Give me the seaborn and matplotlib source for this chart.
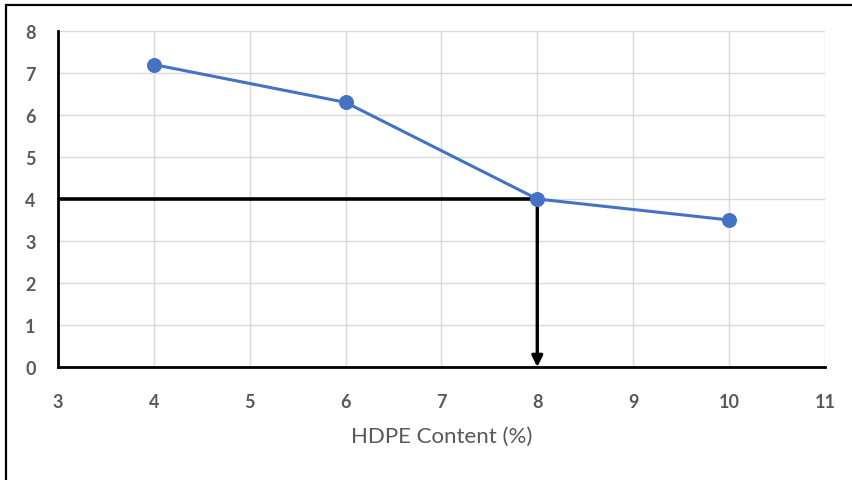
import matplotlib
matplotlib.use("Agg")
import matplotlib.pyplot as plt
import matplotlib.patches as mpatches
import pandas as pd
import seaborn as sns

# HDPE content (%) and measured response
hdpe_content = [4, 6, 8, 10]
response = [7.2, 6.3, 4.0, 3.5]

# Optimum
optimum_content = 8
optimum_value = 4.0

x_ticks = [3, 4, 5, 6, 7, 8, 9, 10, 11]
y_ticks = [0, 1, 2, 3, 4, 5, 6, 7, 8]
x_label = "HDPE Content (%)"

sns.set_theme(style="white")
plt.rcParams["font.family"] = ["Lato", "DejaVu Sans"]

df = pd.DataFrame({"content": hdpe_content, "value": response})

fig = plt.figure(figsize=(8.53, 4.81), dpi=100)
fig.patch.set_facecolor("white")
ax = fig.add_axes([0.068, 0.235, 0.899, 0.6985])

# outer chart frame (left and top edges visible)
frame = mpatches.Rectangle((6.5 / 853, -0.05), 1.2, 1 - 5.5 / 481 + 0.05,
                           transform=fig.transFigure, fill=False,
                           edgecolor="black", linewidth=1.6, zorder=0)
fig.patches.append(frame)

ax.set_xlim(x_ticks[0], x_ticks[-1])
ax.set_ylim(y_ticks[0], y_ticks[-1])
ax.set_xticks(x_ticks)
ax.set_yticks(y_ticks)
ax.grid(True, color="#d9d9d9", linewidth=1.0)
ax.set_axisbelow(True)

for side in ["top", "right"]:
    ax.spines[side].set_visible(False)
for side in ["left", "bottom"]:
    ax.spines[side].set_color("black")
    ax.spines[side].set_linewidth(2.0)

# guide lines to the optimum point
ax.hlines(optimum_value, x_ticks[0], optimum_content, color="black",
          linewidth=2.6, zorder=3)
ax.annotate("", xy=(optimum_content, y_ticks[0]),
            xytext=(optimum_content, optimum_value),
            arrowprops=dict(arrowstyle="-|>", color="black", lw=2.4,
                            mutation_scale=16, shrinkA=0, shrinkB=0),
            zorder=3, annotation_clip=False)

sns.lineplot(data=df, x="content", y="value", ax=ax, color="#4472C4",
             linewidth=2.2, marker="o", markersize=10,
             markeredgecolor="#4472C4", zorder=4)

ax.tick_params(axis="both", length=0, labelsize=13, labelcolor="#595959")
for lbl in ax.get_xticklabels() + ax.get_yticklabels():
    lbl.set_fontweight("bold")
ax.tick_params(axis="x", pad=19)
ax.tick_params(axis="y", pad=16)
ax.set_xlabel(x_label, fontsize=16, color="#595959", labelpad=11)
ax.set_ylabel("")

fig.savefig("out.png", dpi=100, facecolor="white")
